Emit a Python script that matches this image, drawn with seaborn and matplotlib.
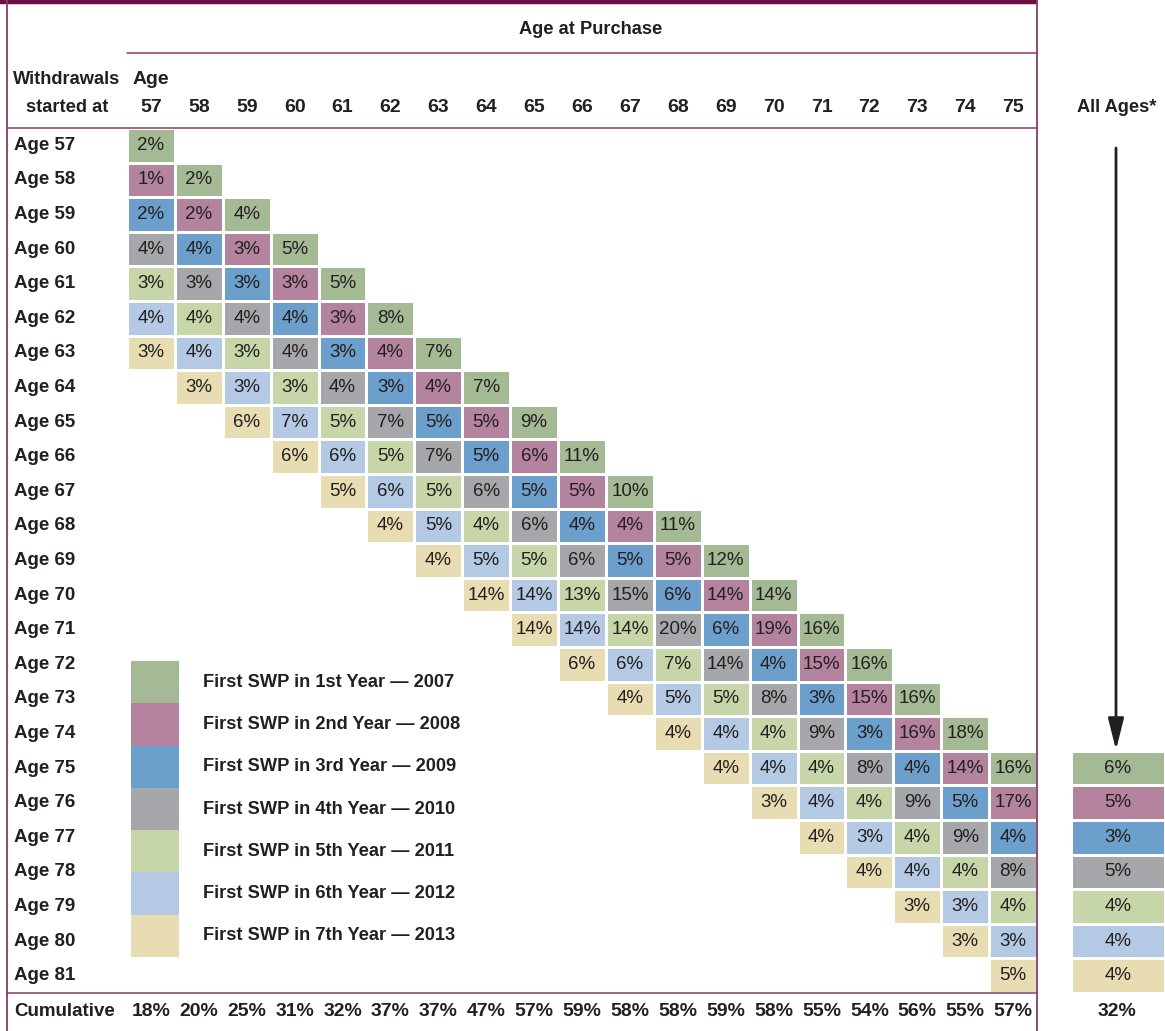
import numpy as np
import pandas as pd
import matplotlib
matplotlib.use("Agg")
import matplotlib.pyplot as plt
from matplotlib.colors import ListedColormap
from matplotlib import font_manager as fm
import seaborn as sns

# ---------------- data ----------------
purchase_ages = list(range(57, 76))          # columns
withdrawal_ages = list(range(57, 82))        # rows
year_labels = ["First SWP in 1st Year \u2014 2007", "First SWP in 2nd Year \u2014 2008",
               "First SWP in 3rd Year \u2014 2009", "First SWP in 4th Year \u2014 2010",
               "First SWP in 5th Year \u2014 2011", "First SWP in 6th Year \u2014 2012",
               "First SWP in 7th Year \u2014 2013"]
swp_2007 = [2, 2, 4, 5, 5, 8, 7, 7, 9, 11, 10, 11, 12, 14, 16, 16, 16, 18, 16]
swp_2008 = [1, 2, 3, 3, 3, 4, 4, 5, 6, 5, 4, 5, 14, 19, 15, 15, 16, 14, 17]
swp_2009 = [2, 4, 3, 4, 3, 3, 5, 5, 5, 4, 5, 6, 6, 4, 3, 3, 4, 5, 4]
swp_2010 = [4, 3, 4, 4, 4, 7, 7, 6, 6, 6, 15, 20, 14, 8, 9, 8, 9, 9, 8]
swp_2011 = [3, 4, 3, 3, 5, 5, 5, 4, 5, 13, 14, 7, 5, 4, 4, 4, 4, 4, 4]
swp_2012 = [4, 4, 3, 7, 6, 6, 5, 5, 14, 14, 6, 5, 4, 4, 4, 3, 4, 3, 3]
swp_2013 = [3, 3, 6, 6, 5, 4, 4, 14, 14, 6, 4, 4, 4, 3, 4, 4, 3, 3, 5]
cumulative = [18, 20, 25, 31, 32, 37, 37, 47, 57, 59, 58, 58, 59, 58, 55, 54, 56, 55, 57]
all_ages = [6, 5, 3, 5, 4, 4, 4]
all_ages_cumulative = 32

colors = ["#a4ba94", "#b4849f", "#6c9fcb", "#a6a7ab", "#c6d6a9", "#b4c9e4", "#e8dcb3"]
series = [swp_2007, swp_2008, swp_2009, swp_2010, swp_2011, swp_2012, swp_2013]

# ---------------- fonts ----------------
def has_font(name):
    try:
        fm.findfont(fm.FontProperties(family=name), fallback_to_default=False)
        return True
    except Exception:
        return False

if has_font("Liberation Sans Narrow"):
    FONT = "Liberation Sans Narrow"
    k = 1.0
else:
    FONT = "Liberation Sans"
    k = 0.82

TXT = "#231f20"
LINE = "#8a3a68"
TOP = "#6b0f45"

sns.set_theme(style="white")
plt.rcParams["font.family"] = [FONT, "DejaVu Sans"]

# ---------------- build matrices ----------------
nrow, ncol = len(withdrawal_ages), len(purchase_ages)
cidx = np.full((nrow, ncol), np.nan)
annot = np.full((nrow, ncol), "", dtype=object)
for j, pa in enumerate(purchase_ages):
    for off, s in enumerate(series):
        i = withdrawal_ages.index(pa + off)
        cidx[i, j] = off
        annot[i, j] = f"{s[j]}%"
df = pd.DataFrame(cidx, index=withdrawal_ages, columns=purchase_ages)

acidx = np.full((nrow, 1), np.nan)
aannot = np.full((nrow, 1), "", dtype=object)
start = withdrawal_ages.index(75)
for off, v in enumerate(all_ages):
    acidx[start + off, 0] = off
    aannot[start + off, 0] = f"{v}%"
adf = pd.DataFrame(acidx, index=withdrawal_ages, columns=["All"])

# ---------------- figure ----------------
W, H = 1165, 1031
fig = plt.figure(figsize=(W / 100, H / 100), dpi=100)

x0, x1 = 127, 1037
y0, y1 = 128, 993
cw = (x1 - x0) / ncol
rh = (y1 - y0) / nrow

cmap = ListedColormap(colors)
akw = {"fontsize": 16.5 * k, "color": TXT, "family": [FONT, "DejaVu Sans"]}

ax = fig.add_axes([x0 / W, 1 - y1 / H, (x1 - x0) / W, (y1 - y0) / H])
sns.heatmap(df, mask=np.isnan(cidx), cmap=cmap, vmin=-0.5, vmax=6.5, annot=annot, fmt="",
            cbar=False, linewidths=1, linecolor="white", annot_kws=akw, ax=ax)
ax.set_xticks([]); ax.set_yticks([]); ax.set_xlabel(""); ax.set_ylabel("")
for sp in ax.spines.values():
    sp.set_visible(False)

ax2 = fig.add_axes([1071 / W, 1 - y1 / H, (W - 1071) / W, (y1 - y0) / H])
sns.heatmap(adf, mask=np.isnan(acidx), cmap=cmap, vmin=-0.5, vmax=6.5, annot=aannot, fmt="",
            cbar=False, linewidths=1, linecolor="white", annot_kws=akw, ax=ax2)
ax2.set_xticks([]); ax2.set_yticks([]); ax2.set_xlabel(""); ax2.set_ylabel("")
for sp in ax2.spines.values():
    sp.set_visible(False)

# overlay in pixel coordinates
ov = fig.add_axes([0, 0, 1, 1])
ov.set_xlim(0, W)
ov.set_ylim(H, 0)
ov.axis("off")

# frame lines
ov.plot([0, x1], [1.5, 1.5], color=TOP, lw=3.2, solid_capstyle="butt")
ov.plot([7, 7], [0, H], color=LINE, lw=1.3)
ov.plot([x1, x1], [0, H], color=LINE, lw=1.3)
ov.plot([x0, x1], [53, 53], color=LINE, lw=1.1)
ov.plot([7, x1], [y0, y0], color=LINE, lw=1.1)
ov.plot([7, x1], [y1, y1], color=LINE, lw=1.1)

bold = dict(fontweight="bold", color=TXT, family=[FONT, "DejaVu Sans"])

ov.text(591, 30, "Age at Purchase", ha="center", va="center", fontsize=16 * k, **bold)
ov.text(67, 80, "Withdrawals", ha="center", va="center", fontsize=16 * k, **bold)
ov.text(67, 107, "started at", ha="center", va="center", fontsize=16 * k, **bold)
ov.text(x0 + cw / 2, 80, "Age", ha="center", va="center", fontsize=17 * k, **bold)
for j, pa in enumerate(purchase_ages):
    ov.text(x0 + cw * (j + 0.5), 107, str(pa), ha="center", va="center", fontsize=17 * k, **bold)
ov.text(1117, 107, "All Ages*", ha="center", va="center", fontsize=16 * k, **bold)

for i, wa in enumerate(withdrawal_ages):
    ov.text(14, y0 + rh * (i + 0.5), f"Age {wa}", ha="left", va="center", fontsize=16.5 * k, **bold)

ov.text(14, 1012, "Cumulative", ha="left", va="center", fontsize=16.5 * k, **bold)
for j, v in enumerate(cumulative):
    ov.text(x0 + cw * (j + 0.5), 1012, f"{v}%", ha="center", va="center", fontsize=17 * k, **bold)
ov.text(1117, 1012, f"{all_ages_cumulative}%", ha="center", va="center", fontsize=17 * k, **bold)

# arrow
ov.annotate("", xy=(1116, 750), xytext=(1116, 148),
            arrowprops=dict(arrowstyle="-|>,head_length=1.6,head_width=0.4", lw=2, color=TXT,
                            shrinkA=0, shrinkB=0))

# legend
ly0, lh = 661, (957 - 661) / 7
for n, (c, lab) in enumerate(zip(colors, year_labels)):
    ov.add_patch(plt.Rectangle((131, ly0 + lh * n), 48, lh, facecolor=c, edgecolor="none"))
    ov.text(203, ly0 + lh * (n + 0.5), lab, ha="left", va="center", fontsize=16 * k, **bold)

fig.savefig("out.png", dpi=100)
